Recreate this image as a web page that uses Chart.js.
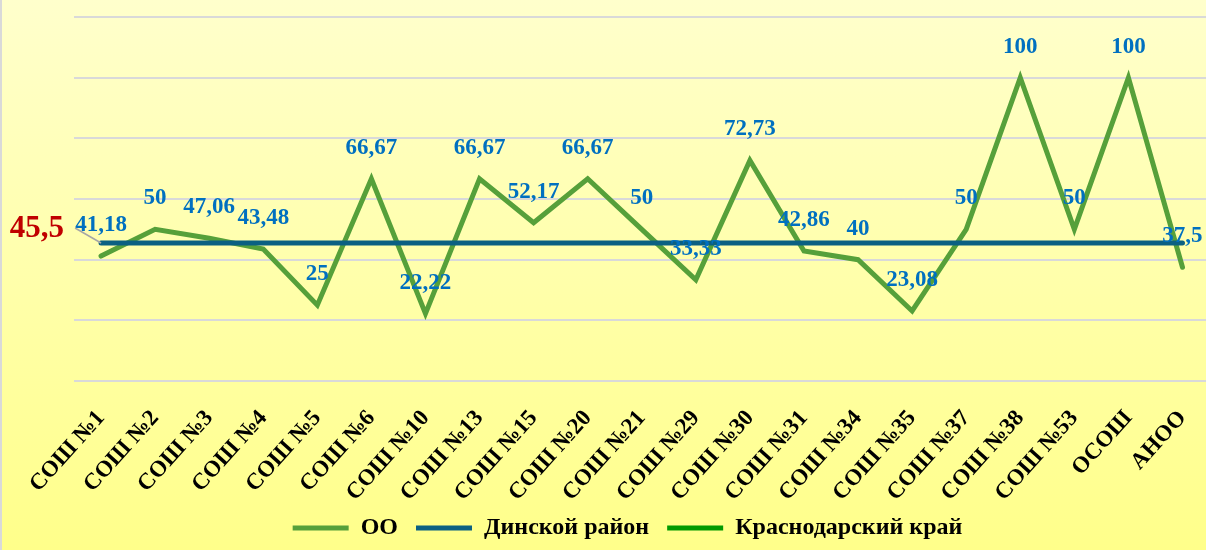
<!DOCTYPE html>
<html lang="ru">
<head>
<meta charset="utf-8">
<script src="https://cdn.jsdelivr.net/npm/chart.js@4.4.1/dist/chart.umd.min.js"></script>
<style>
html, body { margin: 0; padding: 0; overflow: hidden; }
#wrap {
    position: relative; width: 1206px; height: 550px; overflow: hidden;
    background: linear-gradient(to bottom, #ffffcc 0%, #ffff8a 100%);
    box-shadow: inset 2px 0 0 #d9d9d9;
}
canvas { position: absolute; left: 0; top: 0; }
</style>
</head>
<body>
<div id="wrap"><canvas id="chart" width="1219" height="550"></canvas></div>
<script>
// --- DATA ---
const schools = ["СОШ №1", "СОШ №2", "СОШ №3", "СОШ №4", "СОШ №5", "СОШ №6", "СОШ №10",
    "СОШ №13", "СОШ №15", "СОШ №20", "СОШ №21", "СОШ №29", "СОШ №30", "СОШ №31",
    "СОШ №34", "СОШ №35", "СОШ №37", "СОШ №38", "СОШ №53", "ОСОШ", "АНОО"];
const ooValues = [41.18, 50, 47.06, 43.48, 25, 66.67, 22.22, 66.67, 52.17, 66.67, 50,
    33.33, 72.73, 42.86, 40, 23.08, 50, 100, 50, 100, 37.5];
const rayonValues = [45.5, 45.5, 45.5, 45.5, 45.5, 45.5, 45.5, 45.5, 45.5, 45.5, 45.5,
    45.5, 45.5, 45.5, 45.5, 45.5, 45.5, 45.5, 45.5, 45.5, 45.5];
const kraiValues = [];
const yMin = 0, yMax = 120, yStep = 20;

const SERIF = '"Liberation Serif", "Times New Roman", serif';
const fmt = v => String(v).replace('.', ',');

// --- DATA LABELS ---
const valueLabels = {
    id: 'valueLabels',
    afterDatasetsDraw(chart) {
        const ctx = chart.ctx;
        ctx.save();
        ctx.textBaseline = 'middle';

        ctx.font = 'bold 23px ' + SERIF;
        ctx.fillStyle = '#0070c0';
        ctx.textAlign = 'center';
        chart.getDatasetMeta(0).data.forEach((pt, i) => {
            ctx.fillText(fmt(ooValues[i]), pt.x, pt.y - 31);
        });

        // only the first point of the district line carries a label
        const r = chart.getDatasetMeta(1).data[0];
        ctx.strokeStyle = '#a6a6a6';
        ctx.lineWidth = 1.5;
        ctx.beginPath();
        ctx.moveTo(r.x - 26, r.y - 15);
        ctx.lineTo(r.x, r.y);
        ctx.stroke();
        ctx.font = 'bold 31px ' + SERIF;
        ctx.fillStyle = '#c00000';
        ctx.textAlign = 'right';
        ctx.fillText(fmt(rayonValues[0]), r.x - 37, r.y - 14);
        ctx.restore();
    }
};

new Chart(document.getElementById('chart'), {
    type: 'line',
    data: {
        labels: schools,
        datasets: [
            { label: 'ОО', data: ooValues, borderColor: '#56a03a', backgroundColor: '#56a03a',
              borderWidth: 5, pointRadius: 0, tension: 0, borderCapStyle: 'round', order: 1 },
            { label: 'Динской район', data: rayonValues, borderColor: '#0b6082', backgroundColor: '#0b6082',
              borderWidth: 5, pointRadius: 0, tension: 0, borderCapStyle: 'round', order: 0 },
            { label: 'Краснодарский край', data: kraiValues, borderColor: '#019a01', backgroundColor: '#019a01',
              borderWidth: 5, pointRadius: 0, tension: 0, borderCapStyle: 'round', order: 2 }
        ]
    },
    options: {
        responsive: false,
        animation: false,
        layout: { padding: { left: 36, right: 0, top: 17, bottom: 0 } },
        plugins: {
            tooltip: { enabled: false },
            legend: {
                position: 'bottom',
                labels: {
                    usePointStyle: true, pointStyle: 'line', pointStyleWidth: 56,
                    color: '#000', padding: 18,
                    font: { family: SERIF, size: 24, weight: 'bold' },
                    sort: (a, b) => a.datasetIndex - b.datasetIndex
                }
            }
        },
        scales: {
            x: {
                offset: true,
                grid: { display: false },
                border: { display: false },
                ticks: {
                    color: '#000', autoSkip: false, maxRotation: 48, minRotation: 48, padding: 16,
                    font: { family: SERIF, size: 23, weight: 'bold' }
                },
                afterFit(s) { s.height = 117; }
            },
            y: {
                min: yMin, max: yMax,
                ticks: { display: false, stepSize: yStep },
                grid: { color: '#d9d9d9', lineWidth: 2, drawTicks: false },
                border: { display: false },
                afterFit(s) { s.width = 38; }
            }
        }
    },
    plugins: [valueLabels]
});
</script>
</body>
</html>
